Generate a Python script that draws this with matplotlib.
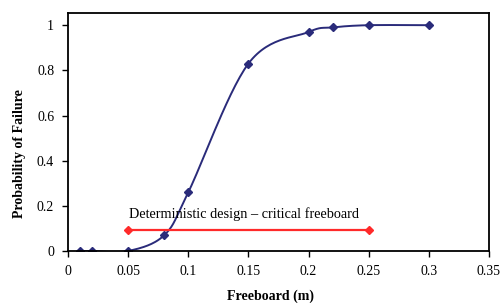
import numpy as np
import matplotlib
matplotlib.use("Agg")
import matplotlib.pyplot as plt

plt.rcParams['font.family'] = ['Liberation Serif', 'DejaVu Serif']

freeboard = [0.01, 0.02, 0.05, 0.08, 0.10, 0.15, 0.20, 0.22, 0.25, 0.30]
prob_fail = [0.0, 0.0, 0.0, 0.07, 0.26, 0.83, 0.97, 0.99, 1.0, 1.0]

det_x = [0.05, 0.25]
det_y = [0.093, 0.093]
det_label = "Deterministic design \u2013 critical freeboard"


def smooth(xs, ys, n=30):
    # Catmull-Rom style smoothing, like a spreadsheet "smoothed line"
    xs = np.asarray(xs, float)
    ys = np.asarray(ys, float)
    px = np.concatenate([[xs[0]], xs, [xs[-1]]])
    py = np.concatenate([[ys[0]], ys, [ys[-1]]])
    ox, oy = [], []
    for i in range(1, len(px) - 2):
        t = np.linspace(0, 1, n)
        b0 = (px[i], py[i])
        b3 = (px[i + 1], py[i + 1])
        b1 = (px[i] + (px[i + 1] - px[i - 1]) / 6, py[i] + (py[i + 1] - py[i - 1]) / 6)
        b2 = (px[i + 1] - (px[i + 2] - px[i]) / 6, py[i + 1] - (py[i + 2] - py[i]) / 6)
        for k in range(2):
            c = ((1 - t) ** 3 * b0[k] + 3 * (1 - t) ** 2 * t * b1[k]
                 + 3 * (1 - t) * t ** 2 * b2[k] + t ** 3 * b3[k])
            (ox if k == 0 else oy).extend(c)
    return ox, oy


fig = plt.figure(figsize=(5.02, 3.03), dpi=100)
ax = fig.add_axes([0.1355, 0.1716, 0.8385, 0.7855])

navy = "#2a2b7a"
sx, sy = smooth(freeboard, prob_fail)
ax.plot(sx, sy, color=navy, lw=1.4)
ax.plot(freeboard, prob_fail, ls="none", marker="D", ms=4, color=navy)

ax.plot(det_x, det_y, color="#ff2a2a", lw=1.6, marker="D", ms=4.5)
ax.text(0.0505, 0.165, det_label, fontsize=10.3, va="center", ha="left")

ax.set_xlim(0, 0.35)
ax.set_ylim(0, 1.054)
ax.set_xticks(np.arange(0, 0.36, 0.05))
ax.set_xticklabels(["0", "0.05", "0.1", "0.15", "0.2", "0.25", "0.3", "0.35"])
ax.set_yticks([0, 0.2, 0.4, 0.6, 0.8, 1.0])
ax.set_yticklabels(["0", "0.2", "0.4", "0.6", "0.8", "1"])
ax.tick_params(labelsize=10, direction="out", length=4, width=1, pad=6)
for s in ax.spines.values():
    s.set_linewidth(1.3)

ax.set_xlabel("Freeboard (m)", fontsize=10, fontweight="bold")
ax.set_ylabel("Probability of Failure", fontsize=10, fontweight="bold")
ax.xaxis.set_label_coords(0.48, -0.19)
ax.yaxis.set_label_coords(-0.116, 0.41)
ax.xaxis.label.set_va("center")
ax.yaxis.label.set_va("center")

fig.savefig("out.png", dpi=100)
